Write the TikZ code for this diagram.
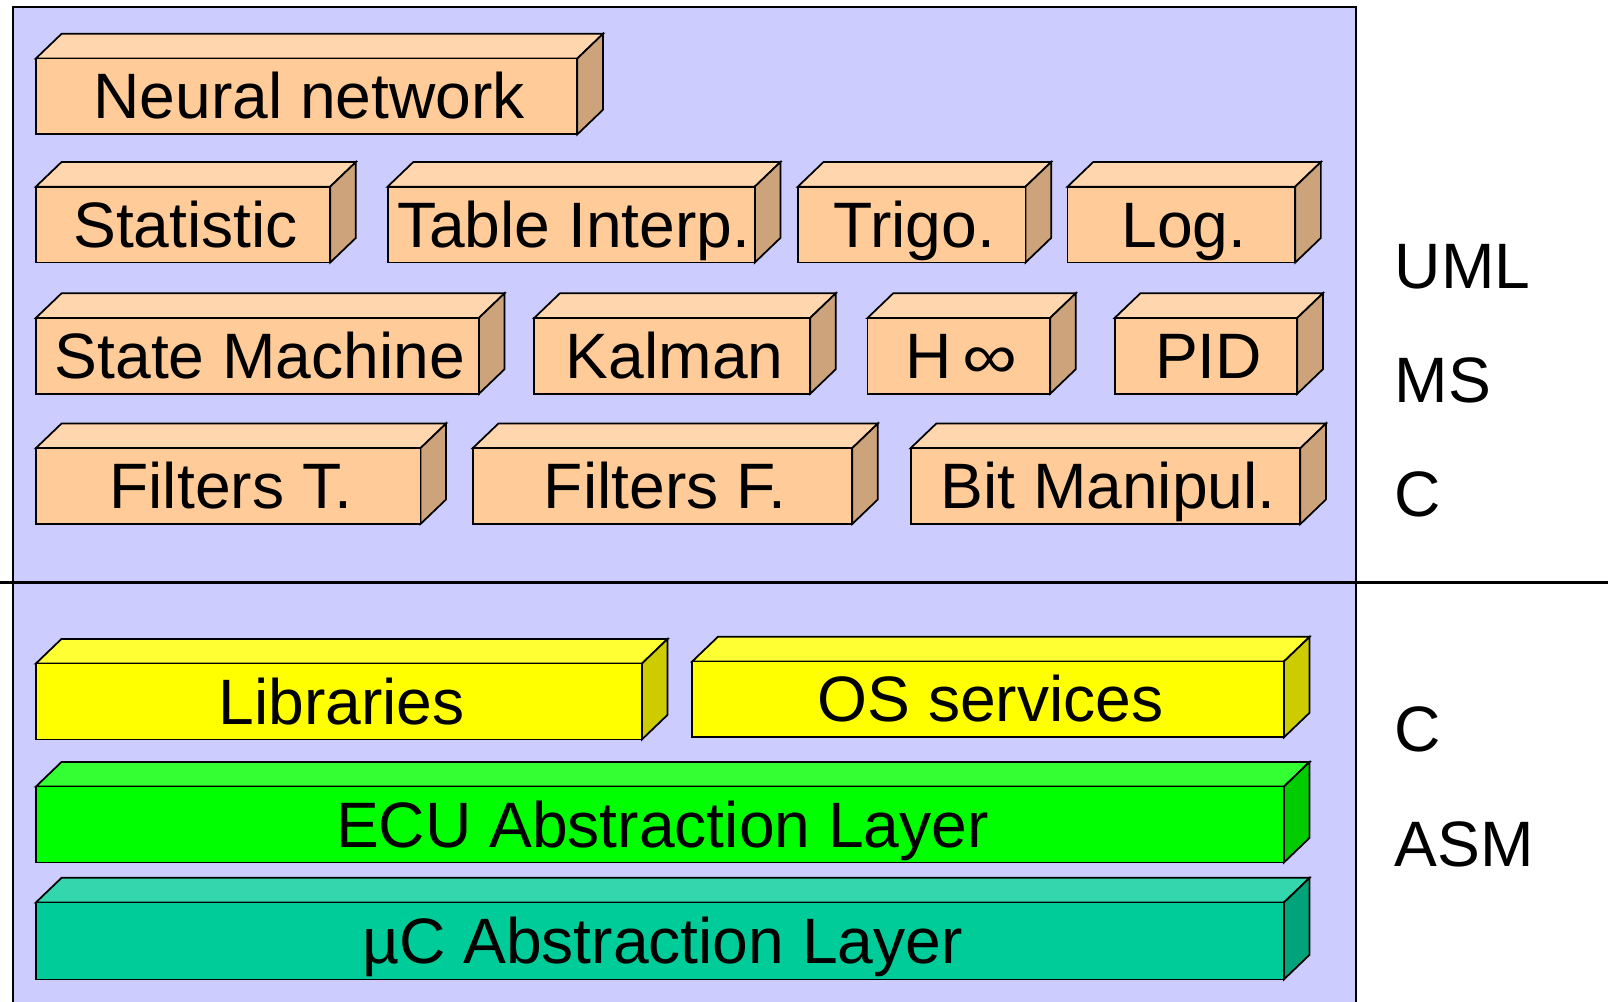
\documentclass[tikz,border=0pt]{standalone}
\usepackage{fontspec}
\setmainfont{Liberation Sans}

\definecolor{panel}{HTML}{CCCCFF}
\definecolor{peach}{HTML}{FFCC99}
\definecolor{peachtop}{HTML}{FFD6AD}
\definecolor{peachside}{HTML}{CCA37A}
\definecolor{lemon}{HTML}{FFFF00}
\definecolor{lemontop}{HTML}{FFFF33}
\definecolor{lemonside}{HTML}{CCCC00}
\definecolor{lime}{HTML}{00FF00}
\definecolor{limetop}{HTML}{33FF33}
\definecolor{limeside}{HTML}{00CC00}
\definecolor{sea}{HTML}{00CC99}
\definecolor{seatop}{HTML}{33D6AD}
\definecolor{seaside}{HTML}{00A37A}

\tikzset{
  outline/.style={draw=black, line width=1.7pt, line join=miter},
  boxtext/.style={anchor=base, inner sep=0pt, font=\fontsize{62.6}{70}\selectfont},
  sidetext/.style={anchor=base west, inner sep=0pt, font=\fontsize{62.6}{70}\selectfont},
  rule/.style={draw=black, line width=2pt}
}

% 3-D slab: #1 name, #2 left, #3 front top, #4 right, #5 bottom, #6 colour, #7 label
\newcommand\slab[7]{%
  \filldraw[outline, fill=#6top] (#2,#3) -- ({#2+25},{#3-24}) -- ({#4+25},{#3-24}) -- (#4,#3) -- cycle;
  \filldraw[outline, fill=#6side] (#4,#3) -- ({#4+25},{#3-24}) -- ({#4+25},{#5-24}) -- (#4,#5) -- cycle;
  \filldraw[outline, fill=#6] (#2,#3) rectangle (#4,#5);
  \node[boxtext] (#1) at ({(#2+#4)/2+2.5},{(#3+#5)/2+22}) {#7};
}

\begin{document}
\begin{tikzpicture}[x=1pt, y=-1pt]
  \useasboundingbox (0,0) rectangle (1568,977);

  % software panel
  \fill[panel] (13,7) rectangle (1322,977);
  \draw[rule] (13,977) -- (13,7) -- (1322,7) -- (1322,977);
  \draw[rule] (0,568) -- (1568,568);

  % application algorithms
  \slab{nn}{35}{57}{563}{131}{peach}{Neural network}

  \slab{stat}{35}{182}{322}{256}{peach}{Statistic}
  \slab{table}{378}{182}{736}{256}{peach}{Table Interp.}
  \slab{trigo}{778}{182}{1000}{256}{peach}{Trigo.}
  \slab{log}{1041}{182}{1263}{256}{peach}{Log.}

  \slab{sm}{35}{310}{467}{384}{peach}{State Machine}
  \slab{kalman}{521}{310}{790}{384}{peach}{Kalman}
  \slab{hinf}{846}{310}{1024}{384}{peach}{H\,\scalebox{1.2}[1.0]{∞}}
  \slab{pid}{1087}{310}{1265}{384}{peach}{PID}

  \slab{filtt}{35}{437}{410}{511}{peach}{Filters T.}
  \slab{filtf}{461}{437}{831}{511}{peach}{Filters F.}
  \slab{bits}{888}{437}{1268}{511}{peach}{Bit Manipul.}

  % basic software
  \slab{libs}{35}{647}{626}{721}{lemon}{Libraries}
  \slab{os}{675}{645}{1252}{719}{lemon}{OS services}
  \slab{ecu}{35}{767}{1252}{841}{lime}{ECU Abstraction Layer}
  \slab{mcu}{35}{880}{1252}{955}{sea}{µC Abstraction Layer}

  % languages
  \node[sidetext] (uml) at (1360,281) {UML};
  \node[sidetext] (ms)  at (1360,392) {MS};
  \node[sidetext] (c1)  at (1360,504) {C};
  \node[sidetext] (c2)  at (1360,733) {C};
  \node[sidetext] (asm) at (1360,845) {ASM};
\end{tikzpicture}
\end{document}
